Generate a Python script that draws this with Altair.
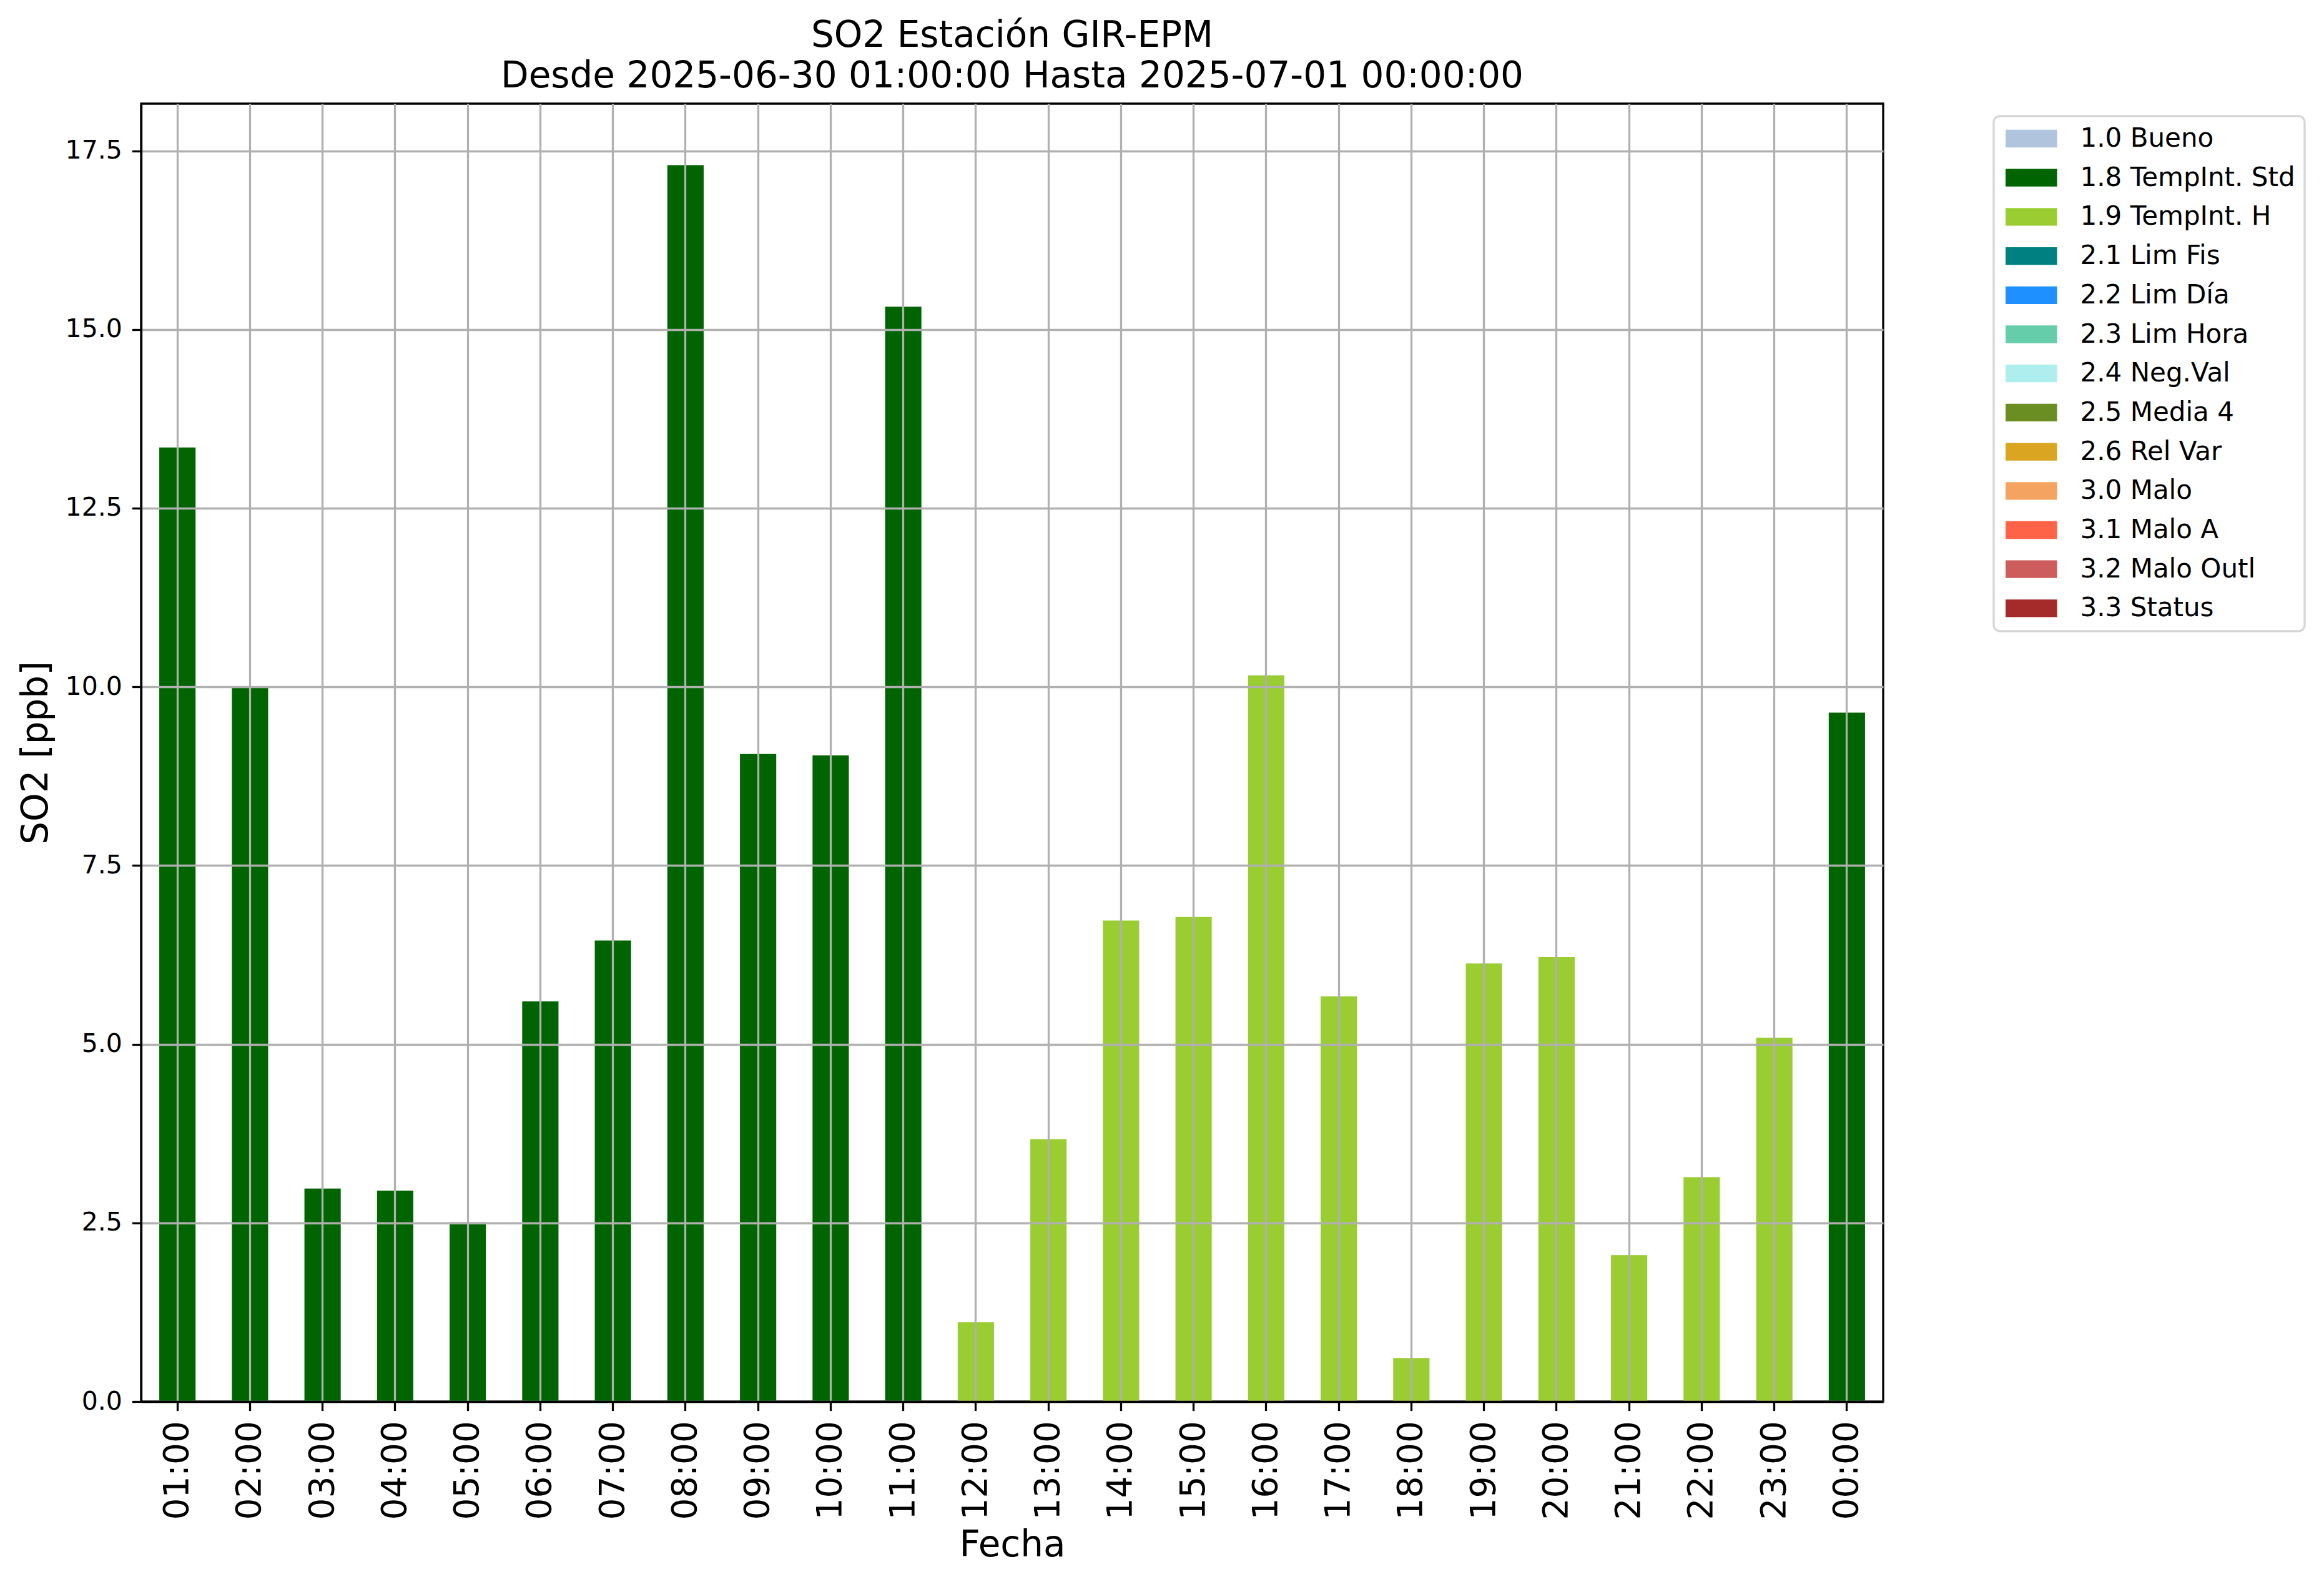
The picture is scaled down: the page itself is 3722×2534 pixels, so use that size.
import altair as alt
import pandas as pd

# ---- data ----
horas = ["01:00", "02:00", "03:00", "04:00", "05:00", "06:00", "07:00", "08:00",
         "09:00", "10:00", "11:00", "12:00", "13:00", "14:00", "15:00", "16:00",
         "17:00", "18:00", "19:00", "20:00", "21:00", "22:00", "23:00", "00:00"]
valores = [13.35, 9.99, 2.98, 2.95, 2.51, 5.60, 6.45, 17.30,
           9.06, 9.04, 15.32, 1.11, 3.67, 6.73, 6.78, 10.16,
           5.67, 0.61, 6.13, 6.22, 2.05, 3.14, 5.09, 9.64]
banderas = ["1.8 TempInt. Std", "1.8 TempInt. Std", "1.8 TempInt. Std", "1.8 TempInt. Std",
            "1.8 TempInt. Std", "1.8 TempInt. Std", "1.8 TempInt. Std", "1.8 TempInt. Std",
            "1.8 TempInt. Std", "1.8 TempInt. Std", "1.8 TempInt. Std", "1.9 TempInt. H",
            "1.9 TempInt. H", "1.9 TempInt. H", "1.9 TempInt. H", "1.9 TempInt. H",
            "1.9 TempInt. H", "1.9 TempInt. H", "1.9 TempInt. H", "1.9 TempInt. H",
            "1.9 TempInt. H", "1.9 TempInt. H", "1.9 TempInt. H", "1.8 TempInt. Std"]
categorias = ["1.0 Bueno", "1.8 TempInt. Std", "1.9 TempInt. H", "2.1 Lim Fis",
              "2.2 Lim Día", "2.3 Lim Hora", "2.4 Neg.Val", "2.5 Media 4",
              "2.6 Rel Var", "3.0 Malo", "3.1 Malo A", "3.2 Malo Outl", "3.3 Status"]
colores = ["#B0C4DE", "#006400", "#9ACD32", "#008080", "#1E90FF", "#66CDAA",
           "#AFEEEE", "#6B8E23", "#DAA520", "#F4A460", "#FF6347", "#CD5C5C", "#A52A2A"]
ticks_y = [0.0, 2.5, 5.0, 7.5, 10.0, 12.5, 15.0, 17.5]

df = pd.DataFrame({"Fecha": horas, "SO2": valores, "Bandera": banderas})

FONT = "DejaVu Sans"
LW = 3.3

chart = alt.Chart(df).mark_bar().encode(
    x=alt.X(
        "Fecha:N",
        sort=horas,
        scale=alt.Scale(paddingInner=0.5, paddingOuter=0.25),
        axis=alt.Axis(
            title="Fecha",
            labelAngle=270, labelAlign="right", labelBaseline="middle",
            labelFontSize=55, labelPadding=16, labelColor="black", labelFont=FONT,
            tickSize=14.6, tickWidth=LW, tickColor="black",
            domainColor="black", domainWidth=LW,
            grid=True, gridColor="#b0b0b0", gridWidth=LW, bandPosition=0.5,
            titleFontSize=58, titleFontWeight="normal", titleColor="black", titleFont=FONT,
            titleY=247, titleBaseline="alphabetic",
            zindex=1,
        ),
    ),
    y=alt.Y(
        "SO2:Q",
        scale=alt.Scale(domain=[0, 18.16], nice=False, zero=True),
        axis=alt.Axis(
            title="SO2 [ppb]",
            values=ticks_y, format=".1f",
            labelFontSize=41, labelPadding=16, labelColor="black", labelFont=FONT,
            tickSize=14.6, tickWidth=LW, tickColor="black",
            domainColor="black", domainWidth=LW,
            grid=True, gridColor="#b0b0b0", gridWidth=LW,
            titleFontSize=58, titleFontWeight="normal", titleColor="black", titleFont=FONT,
            titleAngle=270, titleBaseline="alphabetic", titleAlign="center",
            titleX=-151, titleY=1039.5,
            zindex=1,
        ),
    ),
    color=alt.Color(
        "Bandera:N",
        scale=alt.Scale(domain=categorias, range=colores),
        legend=alt.Legend(
            title=None,
            orient="none", legendX=2967, legendY=20,
            symbolType="M-1,-0.7075H3.125V0.7075H-1Z", symbolSize=1600,
            symbolStrokeWidth=0, symbolOpacity=1, symbolOffset=3,
            labelFontSize=42, labelFont=FONT, labelColor="black",
            labelOffset=78.5, labelLimit=600,
            rowPadding=20.7, padding=15,
            strokeColor="#d6d6d6", fillColor="white", cornerRadius=10,
        ),
    ),
).properties(
    width=2790,
    height=2079,
    title=alt.TitleParams(
        text=["SO2 Estación GIR-EPM", "Desde 2025-06-30 01:00:00 Hasta 2025-07-01 00:00:00"],
        fontSize=58, fontWeight="normal", font=FONT, color="black",
        anchor="middle", frame="group", lineHeight=65, offset=14,
    ),
    autosize=alt.AutoSizeParams(type="none"),
    padding={"left": 218, "top": 158, "right": 698, "bottom": 281},
).configure(
    background="white", font=FONT
).configure_view(
    stroke="black", strokeWidth=LW
).configure_legend(
    strokeWidth=3.3
)

chart.save("out.html", embed_options={"renderer": "svg", "actions": False})
